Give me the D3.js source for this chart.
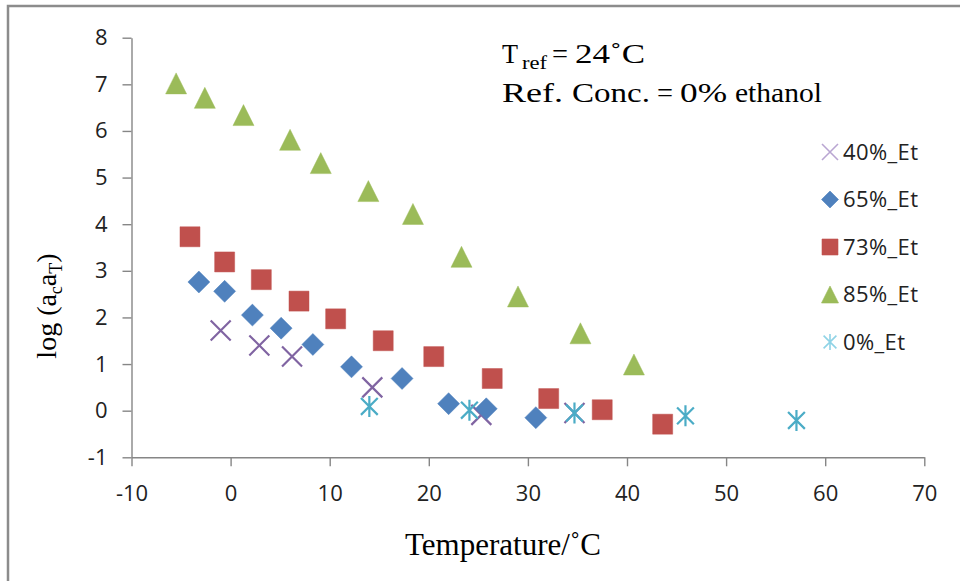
<!DOCTYPE html>
<html>
<head>
<meta charset="utf-8">
<script src="https://cdn.jsdelivr.net/npm/d3@7"></script>
<style>
  body { margin: 0; background: #fff; }
  svg { display: block; }
</style>
</head>
<body>
<script>
// series (temperature in C, log(ac aT))
var temp40 = [-1.0, 2.9, 6.2, 14.3, 25.3, 34.7];
var log40  = [1.72, 1.40, 1.16, 0.50, -0.09, -0.05];

var temp65 = [-3.2, -0.6, 2.2, 5.1, 8.3, 12.2, 17.3, 22.0, 25.8, 30.8];
var log65  = [2.76, 2.56, 2.05, 1.77, 1.42, 0.94, 0.69, 0.15, 0.04, -0.15];

var temp73 = [-4.1, -0.6, 3.1, 6.9, 10.6, 15.4, 20.5, 26.4, 32.1, 37.5, 43.6];
var log73  = [3.73, 3.19, 2.81, 2.35, 1.97, 1.50, 1.16, 0.69, 0.26, 0.02, -0.29];

var temp85 = [-5.5, -2.6, 1.3, 6.0, 9.1, 13.9, 18.4, 23.3, 29.0, 35.3, 40.7];
var log85  = [7.02, 6.71, 6.34, 5.81, 5.31, 4.71, 4.22, 3.30, 2.45, 1.66, 0.99];

var temp0 = [14.0, 24.1, 34.7, 45.9, 57.1];
var log0  = [0.09, 0.01, -0.05, -0.11, -0.21];

var seriesNames = ["40%_Et", "65%_Et", "73%_Et", "85%_Et", "0%_Et"];
var xTicks = [-10, 0, 10, 20, 30, 40, 50, 60, 70];
var yTicks = [-1, 0, 1, 2, 3, 4, 5, 6, 7, 8];

var W = 960, H = 581;

// custom marker shapes, size = full width in px
var crossType = {
	draw: function(ctx, size){
		var r = size / 2;
		ctx.moveTo(-r, -r); ctx.lineTo(r, r);
		ctx.moveTo(-r, r); ctx.lineTo(r, -r);
	}
};
var starType = {
	draw: function(ctx, size){
		var r = size / 2;
		ctx.moveTo(-r * 0.8, -r * 0.8); ctx.lineTo(r * 0.8, r * 0.8);
		ctx.moveTo(-r * 0.8, r * 0.8); ctx.lineTo(r * 0.8, -r * 0.8);
		ctx.moveTo(0, -r); ctx.lineTo(0, r);
	}
};
var squareType = {
	draw: function(ctx, size){
		var r = size / 2;
		ctx.rect(-r, -r, size, size);
	}
};
var diamondType = {
	draw: function(ctx, size){
		var r = size / 2;
		ctx.moveTo(0, -r); ctx.lineTo(r, 0); ctx.lineTo(0, r); ctx.lineTo(-r, 0); ctx.closePath();
	}
};
var triType = {
	draw: function(ctx, size){
		var r = size / 2;
		ctx.moveTo(0, -r); ctx.lineTo(r, r); ctx.lineTo(-r, r); ctx.closePath();
	}
};

var series = [
	{name: seriesNames[0], xs: temp40, ys: log40, type: crossType, color: "#8064A2", fill: false, size: 20, lsize: 16, lcolor: "#b9a6d2"},
	{name: seriesNames[1], xs: temp65, ys: log65, type: diamondType, color: "#4F81BD", fill: true, size: 22, lsize: 17},
	{name: seriesNames[2], xs: temp73, ys: log73, type: squareType, color: "#C0504D", fill: true, size: 20, lsize: 16},
	{name: seriesNames[3], xs: temp85, ys: log85, type: triType, color: "#9BBB59", fill: true, size: 21, lsize: 17},
	{name: seriesNames[4], xs: temp0, ys: log0, type: starType, color: "#4BACC6", fill: false, size: 21, lsize: 16, lcolor: "#8fd3e6"}
];

var svg = d3.select("body").append("svg")
	.attr("width", W)
	.attr("height", H);

// outer frame (top and left edges visible)
svg.append("path")
	.attr("d", "M8,600 L8,6 L962,6")
	.attr("fill", "none")
	.attr("stroke", "#8c8c8c")
	.attr("stroke-width", 2.5);

var x = d3.scaleLinear().domain([-10, 70]).range([131.5, 924.3]);
var y = d3.scaleLinear().domain([-1, 8]).range([457.3, 37.7]);

var axisColor = "#868686";
var tickFont = "'Open Sans', 'Noto Sans', sans-serif";
var plainNum = function(d){ return String(d); };

var gx = svg.append("g")
	.attr("transform", "translate(0," + y(-1) + ")")
	.call(d3.axisBottom(x).tickValues(xTicks).tickFormat(plainNum).tickSize(9).tickPadding(19).tickSizeOuter(0));
var gy = svg.append("g")
	.attr("transform", "translate(" + x(-10) + ",0)")
	.call(d3.axisLeft(y).tickValues(yTicks).tickFormat(plainNum).tickSize(9).tickPadding(15).tickSizeOuter(0));

[gx, gy].forEach(function(g){
	g.select(".domain").attr("stroke", axisColor).attr("stroke-width", 1.4);
	g.selectAll(".tick line").attr("stroke", axisColor).attr("stroke-width", 1.4);
	g.selectAll(".tick text")
		.attr("fill", "#222")
		.style("font-family", tickFont)
		.style("font-size", "22px");
});

// points
series.forEach(function(s){
	var pts = s.xs.map(function(v, i){ return {t: v, l: s.ys[i]}; });
	svg.append("g").selectAll("path")
		.data(pts)
		.enter()
		.append("path")
		.attr("transform", function(d){ return "translate(" + x(d.t) + "," + y(d.l) + ")"; })
		.attr("d", d3.symbol().type(s.type).size(s.size))
		.attr("fill", s.fill ? s.color : "none")
		.attr("stroke", s.color)
		.attr("stroke-width", s.fill ? 0.8 : 2.2)
		.attr("stroke-opacity", s.fill ? 0.6 : 1)
		.attr("stroke-linejoin", "round");
});

// legend
var legY = d3.scaleLinear().domain([0, 4]).range([152, 342]);
var leg = svg.append("g");
series.forEach(function(s, i){
	leg.append("path")
		.attr("transform", "translate(830," + legY(i) + ")")
		.attr("d", d3.symbol().type(s.type).size(s.lsize))
		.attr("fill", s.fill ? s.color : "none")
		.attr("stroke", s.fill ? s.color : s.lcolor)
		.attr("stroke-width", s.fill ? 0.6 : 1.6);
	leg.append("text")
		.attr("x", 843)
		.attr("y", legY(i))
		.attr("dy", "0.36em")
		.attr("fill", "#222")
		.style("font-family", tickFont)
		.style("font-size", "22px")
		.style("letter-spacing", "0.4px")
		.text(s.name);
});

var serif = "'Liberation Serif', 'Times New Roman', serif";

// annotation, word by word: [text, left, width, baseline, font size]
var annWords = [
	["T", 502, 16, 63, 28],
	["ref", 522, 25, 69, 19],
	["=", 552, 16, 63, 28],
	["24\u02DAC", 575, 70, 63, 28],
	["Ref.", 502, 61, 102, 28],
	["Conc.", 572, 78, 102, 28],
	["=", 657, 16, 102, 28],
	["0%", 680, 47, 102, 28],
	["ethanol", 735, 87, 102, 28]
];
svg.append("g").attr("fill", "#000").style("font-family", serif)
	.selectAll("text")
	.data(annWords)
	.enter()
	.append("text")
	.attr("x", function(d){ return d[1]; })
	.attr("y", function(d){ return d[3]; })
	.attr("textLength", function(d){ return d[2]; })
	.attr("lengthAdjust", "spacingAndGlyphs")
	.style("font-size", function(d){ return d[4] + "px"; })
	.text(function(d){ return d[0]; });

// axis titles
svg.append("text")
	.attr("x", 503)
	.attr("y", 555)
	.attr("text-anchor", "middle")
	.style("font-family", serif)
	.style("font-size", "31px")
	.text("Temperature/\u02DAC");

var yt = svg.append("text")
	.attr("transform", "translate(56,306) rotate(-90)")
	.attr("text-anchor", "middle")
	.style("font-family", serif)
	.style("font-size", "28px");
yt.append("tspan").text("log (a");
yt.append("tspan").attr("dy", 6).style("font-size", "18px").text("c");
yt.append("tspan").attr("dy", -6).text("a");
yt.append("tspan").attr("dy", 6).style("font-size", "18px").text("T");
yt.append("tspan").attr("dy", -6).text(")");
</script>
</body>
</html>
